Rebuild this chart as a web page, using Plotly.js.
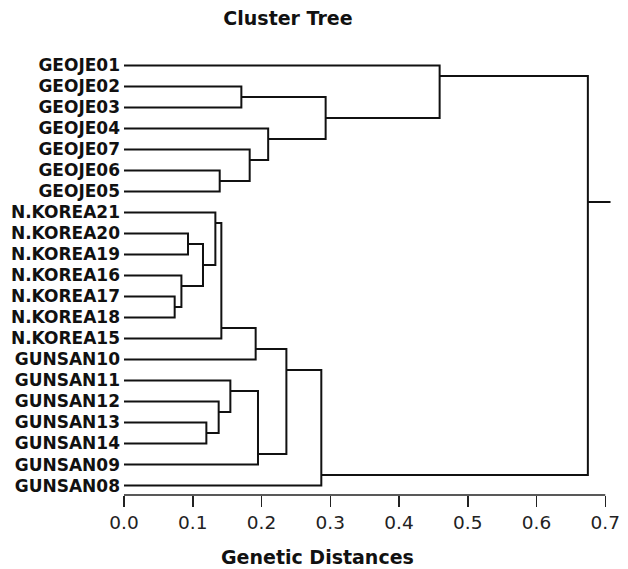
<!DOCTYPE html>
<html>
<head>
<meta charset="utf-8">
<script src="https://cdn.plot.ly/plotly-3.0.1.min.js"></script>
<style>html,body{margin:0;padding:0;background:#fff;}#chart{width:628px;height:569px;}</style>
</head>
<body>
<div id="chart"></div>
<script>
// Leaves, top to bottom
const leafLabels = ["GEOJE01","GEOJE02","GEOJE03","GEOJE04","GEOJE07","GEOJE06","GEOJE05",
  "N.KOREA21","N.KOREA20","N.KOREA19","N.KOREA16","N.KOREA17","N.KOREA18","N.KOREA15",
  "GUNSAN10","GUNSAN11","GUNSAN12","GUNSAN13","GUNSAN14","GUNSAN09","GUNSAN08"];

// Merge steps (children: leaf label or "n<k>" = result of merge k, 1-based)
const mergeUpper = ["N.KOREA17","N.KOREA16","N.KOREA20","n3","GUNSAN13","N.KOREA21","GUNSAN12","GEOJE06","n6","GUNSAN11",
  "GEOJE02","GEOJE07","n9","n10","GEOJE04","n13","n16","n11","GEOJE01","n19"];
const mergeLower = ["N.KOREA18","n1","N.KOREA19","n2","GUNSAN14","n4","n5","GEOJE05","N.KOREA15","n7",
  "GEOJE03","n8","GUNSAN10","GUNSAN09","n12","n14","GUNSAN08","n15","n18","n17"];
const mergeHeight = [0.0737,0.0835,0.0931,0.1149,0.1198,0.1329,0.1377,0.1392,0.1416,0.1547,
  0.1707,0.1828,0.1915,0.1949,0.2097,0.2362,0.2870,0.2933,0.4591,0.6747];

const tickVals = [0,0.1,0.2,0.3,0.4,0.5,0.6,0.7];
const tickText = ["0.0","0.1","0.2","0.3","0.4","0.5","0.6","0.7"];

// ---- layout of the tree ----
const nodeInfo = {};
leafLabels.forEach((l,i)=>{ nodeInfo[l] = {x:0, y:i, minRow:i, maxRow:i}; });
const xs = [], ys = [];
mergeHeight.forEach((h,k)=>{
  const a = nodeInfo[mergeUpper[k]], b = nodeInfo[mergeLower[k]];
  const upper = a.minRow < b.minRow ? a : b;
  const lower = upper === a ? b : a;
  const y = upper.maxRow + 0.5;
  xs.push(upper.x, h, h, lower.x, null);
  ys.push(upper.y, upper.y, lower.y, lower.y, null);
  nodeInfo["n"+(k+1)] = {x:h, y:y, minRow:Math.min(a.minRow,b.minRow), maxRow:Math.max(a.maxRow,b.maxRow)};
});
const root = nodeInfo["n"+mergeHeight.length];
const stub = 0.033;
xs.push(root.x, root.x + stub, null);
ys.push(root.y, root.y, null);

const trace = {
  x: xs, y: ys, type: "scatter", mode: "lines",
  line: {color: "#111", width: 2}, hoverinfo: "skip", showlegend: false
};

const layout = {
  width: 628, height: 569,
  margin: {l: 124, r: 9, t: 55, b: 74},
  paper_bgcolor: "#fff", plot_bgcolor: "#fff",
  title: {text: "Cluster Tree", font: {family: "DejaVu Sans", size: 19, weight: "bold", color: "#111"},
          x: 288/628, xref: "container", xanchor: "center", y: 1 - 18/569, yref: "container", yanchor: "middle"},
  xaxis: {
    range: [0, 0.72], tickvals: tickVals, ticktext: tickText,
    ticks: "outside", ticklen: 11, tickwidth: 1.5, tickcolor: "#222",
    showline: false, showgrid: false, zeroline: false,
    tickfont: {family: "DejaVu Sans", size: 18.5, color: "#222"}
  },
  yaxis: {
    range: [20.45, -0.5], tickvals: leafLabels.map((_,i)=>i), ticktext: leafLabels,
    ticks: "", showline: false, showgrid: false, zeroline: false, ticklabelstandoff: 3,
    tickfont: {family: "DejaVu Sans", size: 17, weight: "bold", color: "#111"}
  },
  shapes: [{type: "line", xref: "x", yref: "paper", x0: tickVals[0], x1: tickVals[tickVals.length-1], y0: 0, y1: 0,
            line: {color: "#222", width: 1.5}}],
  annotations: [{text: "Genetic Distances", xref: "paper", yref: "paper", x: (317-124)/495, y: -62/440,
                 xanchor: "center", yanchor: "middle", showarrow: false,
                 font: {family: "DejaVu Sans", size: 19, weight: "bold", color: "#111"}}]
};

Plotly.newPlot("chart", [trace], layout, {displayModeBar: false, staticPlot: true});
</script>
</body>
</html>
